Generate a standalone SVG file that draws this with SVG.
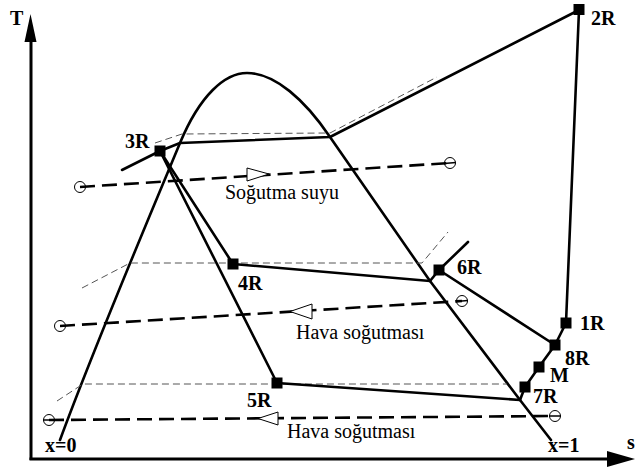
<svg xmlns="http://www.w3.org/2000/svg" width="635" height="468" viewBox="0 0 635 468">
<style>
.thick{fill:none;stroke:#000;stroke-width:2.6;stroke-linejoin:round;stroke-linecap:round}
.axis{fill:none;stroke:#000;stroke-width:3}
.thin{fill:none;stroke:#555;stroke-width:1;stroke-dasharray:7 4}
.flow{fill:none;stroke:#000;stroke-width:2.6;stroke-dasharray:15 7}
.circ{fill:none;stroke:#000;stroke-width:1}
.tri{fill:#fff;stroke:#000;stroke-width:1}
.pt{fill:#000}
.lbl{font-family:"Liberation Serif","Times New Roman",serif;font-weight:bold;font-size:20px;fill:#000}
.txt{font-family:"Liberation Serif","Times New Roman",serif;font-size:20px;fill:#000}
</style>
<rect width="635" height="468" fill="#fff"/>
<g id="axes">
<line class="axis" x1="31" y1="40" x2="31" y2="460"/>
<polygon points="30.5,14 24.5,42 36.5,42" fill="#000"/>
<line class="axis" x1="29.5" y1="459" x2="610" y2="459"/>
<polygon points="635,459 607,451 607,467" fill="#000"/>
<text class="lbl" x="10" y="25" font-size="17">T</text>
<text class="lbl" x="627" y="449" font-size="19">s</text>
</g>
<g id="dome">
<path class="thick" d="M60,440 C95,345 150,215 180,143 C200,95 225,73 247,73 C275,73 305,100 330,137 L430,281 L520,400 L551,440"/>
<text class="lbl" x="45" y="452">x=0</text>
<text class="lbl" x="548" y="452">x=1</text>
</g>
<g id="guides">
<polyline class="thin" points="155,143 182,134 330,133 437,77"/>
<polyline class="thin" points="82,288 130,263 422,263 448,232"/>
<polyline class="thin" points="57,401 83,384 507,384"/>
</g>
<g id="flows">
<g id="cooling-water">
<line class="flow" x1="80" y1="187" x2="450" y2="163"/>
<circle class="circ" cx="80" cy="187" r="5.5"/>
<circle class="circ" cx="450" cy="163" r="5.5"/>
<line stroke="#000" stroke-width="1.5" x1="444" y1="163.4" x2="456" y2="162.6"/>
<polygon class="tri" points="269,174 247,168 247,181"/>
<text class="txt" x="225" y="199">Soğutma suyu</text>
</g>
<g id="air-cooling-1">
<line class="flow" x1="60" y1="326" x2="462" y2="301"/>
<circle class="circ" cx="60" cy="326" r="5.5"/>
<circle class="circ" cx="462" cy="301" r="5.5"/>
<line stroke="#000" stroke-width="1.5" x1="456" y1="301.4" x2="468" y2="300.6"/>
<polygon class="tri" points="290,311.5 312,304 312,319"/>
<text class="txt" x="296" y="339">Hava soğutması</text>
</g>
<g id="air-cooling-2">
<line class="flow" x1="49" y1="420" x2="555" y2="416"/>
<circle class="circ" cx="49" cy="420" r="5.5"/>
<circle class="circ" cx="555" cy="416" r="5.5"/>
<line stroke="#000" stroke-width="1.5" x1="43" y1="420" x2="55" y2="420"/>
<line stroke="#000" stroke-width="1.5" x1="549" y1="416" x2="561" y2="416"/>
<polygon class="tri" points="258,418.5 278,412 278,425"/>
<text class="txt" x="287" y="438">Hava soğutması</text>
</g>
</g>
<g id="connectors">
<line class="thick" x1="122" y1="170" x2="160" y2="151"/>
<polyline class="thick" points="160,151 180,143 330,137 579,10"/>
<line class="thick" x1="579" y1="10" x2="566" y2="323"/>
<polyline class="thick" points="566,323 555,345 539,367 525,387 520,400"/>
<line class="thick" x1="468" y1="242" x2="439" y2="270"/>
<line class="thick" x1="439" y1="270" x2="430" y2="281"/>
<line class="thick" x1="439" y1="270" x2="555" y2="345"/>
<line class="thick" x1="233" y1="264" x2="430" y2="281"/>
<line class="thick" x1="277" y1="383" x2="520" y2="400"/>
<line class="thick" x1="160" y1="151" x2="233" y2="264"/>
<line class="thick" x1="160" y1="151" x2="277" y2="383"/>
</g>
<g id="node-2R"><rect class="pt" x="573.5" y="4" width="11" height="11"/><text class="lbl" x="591" y="25">2R</text></g>
<g id="node-3R"><rect class="pt" x="154.5" y="145.5" width="11" height="11"/><text class="lbl" x="125" y="148">3R</text></g>
<g id="node-4R"><rect class="pt" x="227.5" y="258.5" width="11" height="11"/><text class="lbl" x="238" y="290">4R</text></g>
<g id="node-5R"><rect class="pt" x="271.5" y="377.5" width="11" height="11"/><text class="lbl" x="247" y="407">5R</text></g>
<g id="node-6R"><rect class="pt" x="433.5" y="264.5" width="11" height="11"/><text class="lbl" x="457" y="274">6R</text></g>
<g id="node-1R"><rect class="pt" x="560.5" y="317.5" width="11" height="11"/><text class="lbl" x="580" y="330">1R</text></g>
<g id="node-8R"><rect class="pt" x="549.5" y="339.5" width="11" height="11"/><text class="lbl" x="565" y="365">8R</text></g>
<g id="node-M"><rect class="pt" x="533.5" y="361.5" width="11" height="11"/><text class="lbl" x="550" y="382">M</text></g>
<g id="node-7R"><rect class="pt" x="519.5" y="381.5" width="11" height="11"/><text class="lbl" x="533" y="403">7R</text></g>
</svg>
